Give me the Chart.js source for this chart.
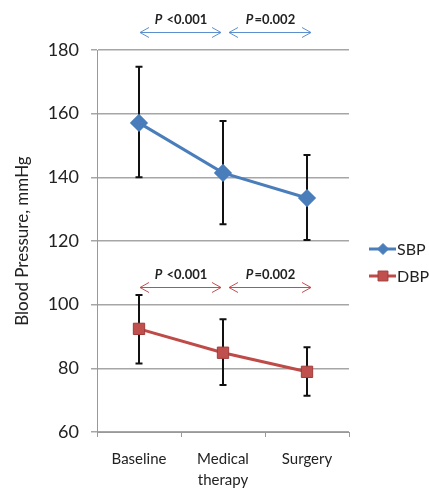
<!DOCTYPE html>
<html>
<head>
<meta charset="utf-8">
<script src="https://cdn.jsdelivr.net/npm/chart.js@4/dist/chart.umd.min.js"></script>
<style>
html,body{margin:0;padding:0;background:#fff;}
#wrap{width:429px;height:488px;position:relative;}
</style>
</head>
<body>
<div id="wrap"><canvas id="c" width="429" height="488"></canvas></div>
<script>
// ---- data ----
const categories = ["Baseline", ["Medical", "therapy"], "Surgery"];
const sbpMean = [157.1, 141.4, 133.5];
const sbpHigh = [174.7, 157.7, 147.0];
const sbpLow  = [140.0, 125.3, 120.3];
const dbpMean = [92.4, 84.9, 78.9];
const dbpHigh = [103.0, 95.4, 86.6];
const dbpLow  = [81.5, 74.8, 71.4];
const yTicks = [60, 80, 100, 120, 140, 160, 180];
// significance annotations: from category index, to category index, label, y-level value
const pFrom = [0, 1, 0, 1];
const pTo = [1, 2, 1, 2];
const pPrefix = ["P", "P", "P", "P"];
const pText = [" <0.001", "=0.002", " <0.001", "=0.002"];
const pLevel = [185.6, 185.6, 105.5, 105.5];
const pSeries = ["SBP", "SBP", "DBP", "DBP"];

const FONT = "Lato, 'Open Sans', sans-serif";
const BLUE = "#4a7ebb";
const RED = "#be4b48";
const arrowColor = {SBP: "#5b8fcf", DBP: "#c0504d"};

const errorBars = {
  id: "errorBars",
  beforeDatasetsDraw(chart) {
    const {ctx, scales: {x, y}} = chart;
    const sets = [[sbpHigh, sbpLow], [dbpHigh, dbpLow]];
    ctx.save();
    ctx.strokeStyle = "#111";
    ctx.lineWidth = 2;
    sets.forEach(([hi, lo]) => {
      hi.forEach((h, i) => {
        const px = x.getPixelForValue(i);
        const yh = y.getPixelForValue(h), yl = y.getPixelForValue(lo[i]);
        ctx.beginPath();
        ctx.moveTo(px, yh); ctx.lineTo(px, yl);
        ctx.moveTo(px - 3.5, yh); ctx.lineTo(px + 3.5, yh);
        ctx.moveTo(px - 3.5, yl); ctx.lineTo(px + 3.5, yl);
        ctx.stroke();
      });
    });
    ctx.restore();
  }
};

function arrowHead(ctx, x, y, dir) {
  ctx.beginPath();
  ctx.moveTo(x - dir * 9, y - 5);
  ctx.lineTo(x, y);
  ctx.lineTo(x - dir * 9, y + 5);
  ctx.stroke();
}

const annotations = {
  id: "annotations",
  afterDraw(chart) {
    const {ctx, scales: {x, y}} = chart;
    ctx.save();
    pFrom.forEach((f, i) => {
      const x1 = x.getPixelForValue(f) + (f === 0 ? 1 : 6);
      const x2 = x.getPixelForValue(pTo[i]) - (f === 0 ? 2 : -4);
      const py = Math.round(y.getPixelForValue(pLevel[i])) + 0.5;
      ctx.strokeStyle = arrowColor[pSeries[i]];
      ctx.lineWidth = 1;
      ctx.beginPath();
      ctx.moveTo(x1, py); ctx.lineTo(x2, py);
      ctx.stroke();
      arrowHead(ctx, x1, py, -1);
      arrowHead(ctx, x2, py, 1);
      ctx.fillStyle = "#222";
      ctx.textBaseline = "alphabetic";
      const f1 = "italic bold 13px " + FONT;
      const f2 = "bold 13px " + FONT;
      ctx.font = f1; const w1 = ctx.measureText(pPrefix[i]).width;
      ctx.font = f2; const w2 = ctx.measureText(pText[i]).width;
      const cx = (x1 + x2) / 2;
      const sx = cx - (w1 + w2) / 2;
      ctx.font = f1; ctx.fillText(pPrefix[i], sx, py - 9);
      ctx.font = f2; ctx.fillText(pText[i], sx + w1 + 1, py - 9);
    });
    ctx.restore();
  }
};

const customLegend = {
  id: "customLegend",
  afterDraw(chart) {
    const ctx = chart.ctx;
    const items = [["SBP", BLUE, "rectRot", 249], ["DBP", RED, "rect", 276]];
    ctx.save();
    items.forEach(([label, col, style, ly]) => {
      ctx.strokeStyle = col; ctx.lineWidth = 3;
      ctx.beginPath(); ctx.moveTo(369, ly); ctx.lineTo(396, ly); ctx.stroke();
      ctx.fillStyle = style === "rect" ? "#c0504d" : BLUE;
      ctx.strokeStyle = style === "rect" ? "#a03c3a" : BLUE;
      ctx.lineWidth = 1;
      Chart.helpers.drawPoint(ctx, {pointStyle: style, rotation: 0, borderWidth: 1, radius: style === "rect" ? 7 : 5.5}, 383, ly);
      ctx.font = "16px " + FONT;
      ctx.fillStyle = "#222";
      ctx.textBaseline = "middle";
      ctx.fillText(label, 397, ly + 1);
    });
    ctx.restore();
  }
};

new Chart(document.getElementById("c"), {
  type: "line",
  data: {
    labels: categories,
    datasets: [
      {label: "SBP", data: sbpMean, borderColor: BLUE, backgroundColor: BLUE,
       borderWidth: 3, pointStyle: "rectRot", pointRadius: 7, pointBorderColor: BLUE,
       pointBackgroundColor: BLUE, tension: 0},
      {label: "DBP", data: dbpMean, borderColor: RED, backgroundColor: "#c0504d",
       borderWidth: 3, pointStyle: "rect", pointRadius: 8, pointBorderColor: "#a03c3a",
       pointBorderWidth: 1, pointBackgroundColor: "#c0504d", tension: 0}
    ]
  },
  options: {
    responsive: false,
    animation: false,
    layout: {padding: {top: 50, right: 80, left: 0, bottom: 0}},
    plugins: {legend: {display: false}, tooltip: {enabled: false}},
    scales: {
      x: {
        offset: true,
        grid: {offset: true, drawOnChartArea: false, drawTicks: true, tickLength: 5, color: "#999", lineWidth: 1},
        border: {display: true, color: "#999", width: 1},
        ticks: {color: "#222", font: {family: FONT, size: 15, lineHeight: 1.45}, padding: 11, maxRotation: 0, autoSkip: false},
        afterFit(s) { s.height = 56; }
      },
      y: {
        min: 60, max: 180,
        afterBuildTicks(s) { s.ticks = yTicks.map(v => ({value: v})); },
        grid: {color: "#a6a6a6", lineWidth: 1.5, tickLength: 6, drawTicks: true},
        border: {display: true, color: "#999", width: 1},
        ticks: {color: "#222", font: {family: FONT, size: 18}, padding: 12},
        title: {display: true, text: "Blood Pressure, mmHg", color: "#222", font: {family: FONT, size: 17}, padding: {top: 12, bottom: 6}},
        afterFit(s) { s.width = 97; }
      }
    }
  },
  plugins: [errorBars, annotations, customLegend]
});
</script>
</body>
</html>
